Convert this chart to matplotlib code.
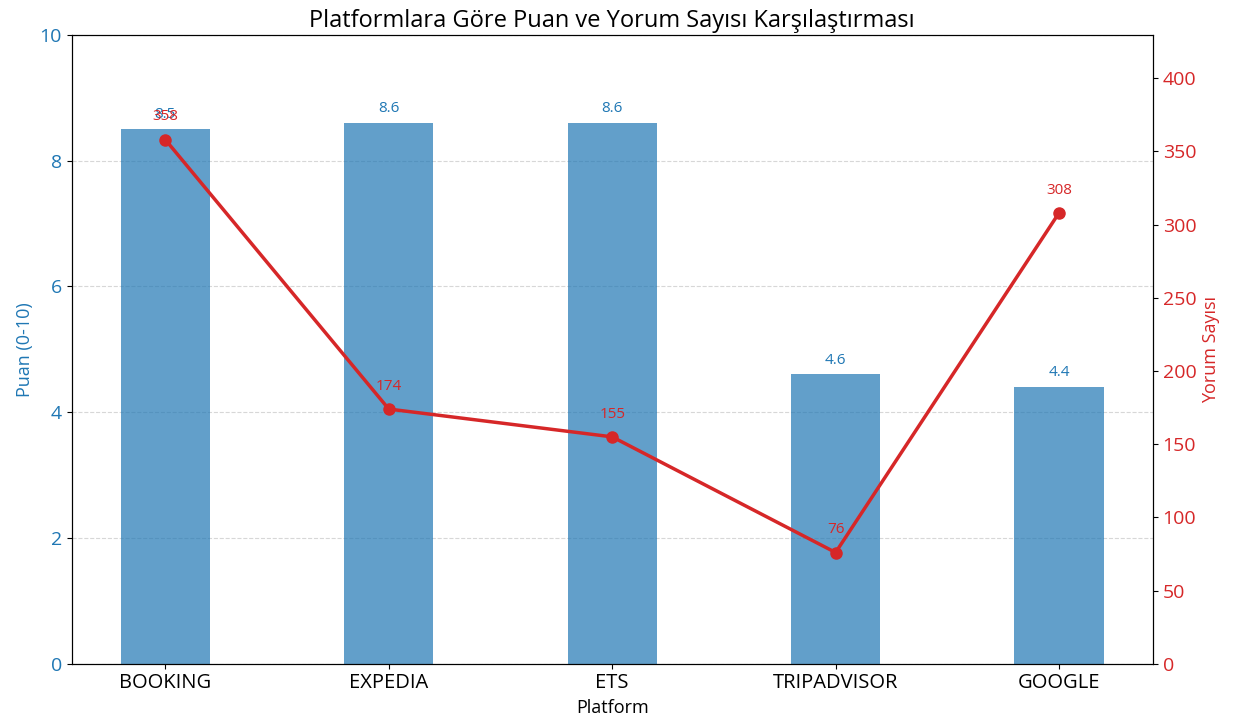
import matplotlib
matplotlib.use("Agg")
import matplotlib.pyplot as plt
import numpy as np

plt.rcParams['font.family'] = ['Open Sans', 'DejaVu Sans']

platforms = ["BOOKING", "EXPEDIA", "ETS", "TRIPADVISOR", "GOOGLE"]
scores = [8.5, 8.6, 8.6, 4.6, 4.4]
reviews = [358, 174, 155, 76, 308]

fig, ax1 = plt.subplots(figsize=(12.33, 7.27), dpi=100)
fig.subplots_adjust(left=0.058, right=0.935, top=0.952, bottom=0.087)

x = np.arange(len(platforms))
bars = ax1.bar(x, scores, width=0.4, color='tab:blue', alpha=0.7, zorder=2)
ax1.set_ylim(0, 10)
ax1.set_ylabel("Puan (0-10)", color='tab:blue', fontsize=13)
ax1.tick_params(axis='y', labelcolor='tab:blue', labelsize=14)
ax1.set_xticks(x)
ax1.set_xticklabels(platforms, fontsize=14.5)
ax1.set_xlabel("Platform", fontsize=13)
ax1.grid(axis='y', linestyle='--', alpha=0.5, zorder=0)
for xi, s in zip(x, scores):
    ax1.annotate(f"{s:.1f}", (xi, s), xytext=(0, 5), textcoords='offset points',
                 ha='center', va='bottom', color='tab:blue', fontsize=11)

ax2 = ax1.twinx()
ax2.plot(x, reviews, color='tab:red', marker='o', linewidth=2.5, markersize=8)
ax2.set_ylim(0, max(reviews) * 1.2)
ax2.set_ylabel("Yorum Sayısı", color='tab:red', fontsize=13)
ax2.tick_params(axis='y', labelcolor='tab:red', labelsize=14)
for xi, r in zip(x, reviews):
    ax2.annotate(f"{r}", (xi, r), xytext=(0, 11), textcoords='offset points',
                 ha='center', va='bottom', color='tab:red', fontsize=11)

ax1.set_title("Platformlara Göre Puan ve Yorum Sayısı Karşılaştırması", fontsize=17)

fig.savefig("out.png", dpi=100)
